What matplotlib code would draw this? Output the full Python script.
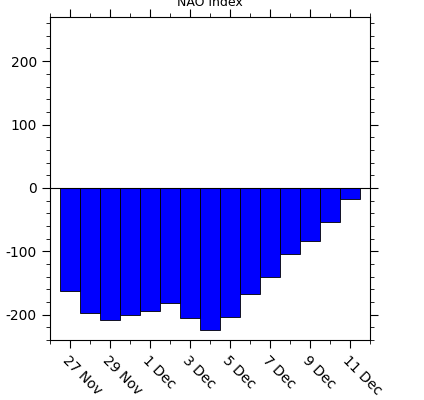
import numpy as np
import matplotlib.pyplot as plt
import matplotlib.transforms as mtransforms
from matplotlib.ticker import MultipleLocator

plt.rcParams['axes.unicode_minus'] = False

days = np.arange(15)
nao = [-162, -197, -209, -201, -194, -181, -205, -225, -203, -167, -140, -105, -83, -54, -17]
tick_labels = ["27 Nov", "29 Nov", "1 Dec", "3 Dec", "5 Dec", "7 Dec", "9 Dec", "11 Dec"]

fig = plt.figure(figsize=(4.24, 4.0), dpi=100)
ax = fig.add_axes([0.118, 0.15, 0.755, 0.808])
ax.bar(days, nao, width=1.0, color="blue", edgecolor="black", linewidth=0.6)
ax.axhline(0, color="black", linewidth=0.8)
ax.set_xlim(-1, 15)
ax.set_ylim(-240, 270)
ax.set_xticks(days[::2])
ax.set_xticklabels(tick_labels, rotation=-45, ha="left", rotation_mode="anchor", fontsize=10)
shift = mtransforms.ScaledTranslation(-8 / 100, 0, fig.dpi_scale_trans)
for lbl in ax.get_xticklabels():
    lbl.set_transform(lbl.get_transform() + shift)
ax.xaxis.set_minor_locator(MultipleLocator(1))
ax.set_yticks([-200, -100, 0, 100, 200])
ax.yaxis.set_minor_locator(MultipleLocator(20))
ax.tick_params(which="both", direction="out", top=True, right=True, labelsize=10)
ax.tick_params(which="major", length=6)
ax.tick_params(which="minor", length=3)
ax.set_title("NAO index", fontsize=9, pad=8)
fig.savefig("out.png", dpi=100)
